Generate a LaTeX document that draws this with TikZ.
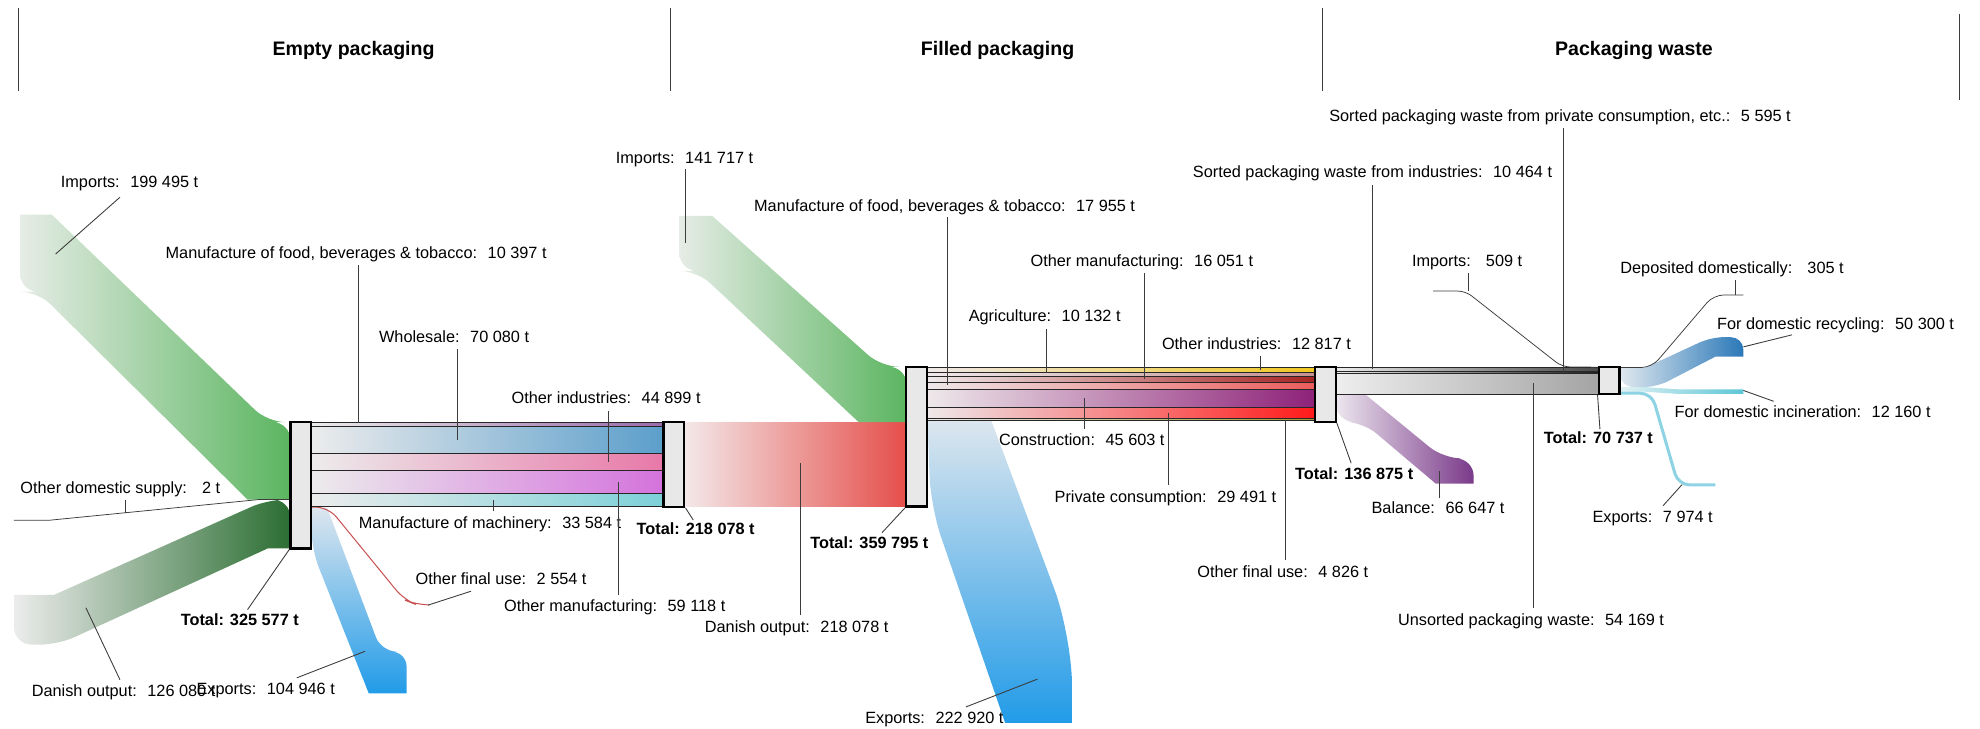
\documentclass[tikz,border=0pt]{standalone}
\usepackage{fontspec}
\setmainfont{Liberation Sans}
\usepackage{xcolor}
\usepackage{tikz}
\usetikzlibrary{positioning}

\definecolor{barfill}{HTML}{E8E8E8}
\definecolor{leadgray}{HTML}{3C3C3C}
\definecolor{paleL}{HTML}{ECECEC}
\definecolor{impPale}{HTML}{E6ECE6}
\definecolor{impGreen}{HTML}{5BB560}
\definecolor{danGreen}{HTML}{2B6E32}
\definecolor{expPale}{HTML}{DCE6EE}
\definecolor{expBlue}{HTML}{229BE8}
\definecolor{foodPurple}{HTML}{9A6AAA}
\definecolor{wsBlue}{HTML}{5B9ECB}
\definecolor{oiPink}{HTML}{E878A8}
\definecolor{omOrchid}{HTML}{D472DC}
\definecolor{mmCyan}{HTML}{7CD0D8}
\definecolor{redPale}{HTML}{F3E8E8}
\definecolor{danRed}{HTML}{E54E4A}
\definecolor{fillPale}{HTML}{EEE8EA}
\definecolor{oiYellow}{HTML}{F0C820}
\definecolor{agrRose}{HTML}{C49090}
\definecolor{omDark}{HTML}{A82424}
\definecolor{fbSalmon}{HTML}{EC5C5C}
\definecolor{conPurple}{HTML}{8E2279}
\definecolor{pcRed}{HTML}{FF1A1A}
\definecolor{ofuOlive}{HTML}{A49A34}
\definecolor{ofuRed}{HTML}{C85050}
\definecolor{balPale}{HTML}{ECE6EE}
\definecolor{balPurple}{HTML}{7A3A8A}
\definecolor{wastePale}{HTML}{EEEEEE}
\definecolor{unsGray}{HTML}{A4A4A4}
\definecolor{sinGray}{HTML}{4A4A4A}
\definecolor{sprGray}{HTML}{1E1E1E}
\definecolor{recPale}{HTML}{E0E8EF}
\definecolor{recBlue}{HTML}{2A78B8}
\definecolor{incPale}{HTML}{E2F1F3}
\definecolor{incCyan}{HTML}{5CC6D6}
\definecolor{expCyan}{HTML}{8ED3E3}

\begin{document}
\begin{tikzpicture}[x=1pt, y=-1pt,
    lbl/.style={font=\fontsize{12.9}{15}\selectfont, inner sep=0pt, anchor=west, text height=9.2pt, text depth=0pt},
    totlbl/.style={lbl, font=\fontsize{12.9}{15}\selectfont\bfseries},
    head/.style={font=\fontsize{15.5}{18}\selectfont\bfseries, inner sep=0pt},
    bar/.style={draw=black, line width=1.8pt, fill=barfill, minimum width=16.5pt, inner sep=0pt},
    lead/.style={draw=leadgray, line width=0.7pt},
    sep/.style={draw=black!85, line width=0.8pt}]
    \useasboundingbox (0,0) rectangle (1568,577);

    \draw[lead] (15,6) -- (15,72);
    \draw[lead] (531,6) -- (531,72);
    \draw[lead] (1047,6) -- (1047,72);
    \draw[lead] (1552,11) -- (1552,79);
    \node[head] (hEmpty) at (280,40) {Empty packaging};
    \node[head] (hFilled) at (790,40) {Filled packaging};
    \node[head] (hWaste) at (1294,40) {Packaging waste};

    \shade[left color=impPale, right color=impGreen] (16,170) -- (41,170) [rounded corners=14pt] -- (212,334.3) -- (230,334.3) [sharp corners] -- (230,395.6) -- (196,395.6) [rounded corners=14pt] -- (30,231) -- (16,231) [sharp corners] -- cycle;
    \shade[left color=paleL, right color=danGreen] (11,471) -- (43,471) [rounded corners=14pt] -- (212,395.6) -- (230,395.6) [sharp corners] -- (230,434.3) -- (212,434.3) [rounded corners=14pt] -- (46,510.5) -- (11,510.5) [sharp corners] -- cycle;
    \draw[lead, line width=0.6pt] (229,395.6) -- (205,395.6) -- (39,412) -- (11,412);
    \shade[top color=expPale, bottom color=expBlue] (246.5,402) -- (259,402) [rounded corners=12pt] -- (302,516) -- (322,516) [sharp corners] -- (322,549) -- (292,549) [rounded corners=16pt] -- (246.5,434.3) [sharp corners] -- cycle;
    \draw[draw=ofuRed, line width=0.8pt, rounded corners=10pt] (246.5,401.6) -- (260,401.6) -- (320,475) -- (330,479) -- (339,479);

    \shade[left color=paleL, right color=foodPurple] (246,334.3) rectangle (526,337.5);
    \shade[left color=paleL, right color=wsBlue] (246,337.5) rectangle (526,359.0);
    \shade[left color=paleL, right color=oiPink] (246,359.0) rectangle (526,372.8);
    \shade[left color=paleL, right color=omOrchid] (246,372.8) rectangle (526,391.0);
    \shade[left color=paleL, right color=mmCyan] (246,391.0) rectangle (526,401.3);
    \foreach \yy in {334.3,337.5,359.0,372.8,391.0,401.3}
        \draw[sep] (246,\yy) -- (526,\yy);

    \shade[left color=redPale, right color=danRed] (542,334.3) rectangle (718,401.3);
    \shade[left color=impPale, right color=impGreen] (538,171) -- (564,171) [rounded corners=14pt] -- (698,290.5) -- (718,290.5) [sharp corners] -- (718,334.3) -- (680,334.3) [rounded corners=14pt] -- (552,214.5) -- (538,214.5) [sharp corners] -- cycle;
    \shade[top color=expPale, bottom color=expBlue] (734.5,333) -- (785,333) [rounded corners=40pt] -- (849,504) [sharp corners] -- (849,572.5) -- (796,572.5) [rounded corners=25pt] -- (737,401.3) [sharp corners] -- cycle;

    \shade[left color=fillPale, right color=oiYellow] (734,291.0) rectangle (1041,294.9);
    \shade[left color=fillPale, right color=agrRose] (734,294.9) rectangle (1041,298.0);
    \shade[left color=fillPale, right color=omDark] (734,298.0) rectangle (1041,303.0);
    \shade[left color=fillPale, right color=fbSalmon] (734,303.0) rectangle (1041,308.5);
    \shade[left color=fillPale, right color=conPurple] (734,308.5) rectangle (1041,322.5);
    \shade[left color=fillPale, right color=pcRed] (734,322.5) rectangle (1041,331.5);
    \shade[left color=fillPale, right color=ofuOlive] (734,331.5) rectangle (1041,333.0);
    \foreach \yy in {291.0,294.9,298.0,303.0,308.5,322.5,331.5,333.0}
        \draw[sep, line width=0.6pt] (734,\yy) -- (1041,\yy);

    \shade[left color=balPale, right color=balPurple] (1058,313) -- (1082,313) [rounded corners=14pt] -- (1143,363) -- (1167,363) [sharp corners] -- (1167,383) -- (1137,383) [rounded corners=14pt] -- (1079,334) -- (1058,334) [sharp corners] -- cycle;

    \shade[left color=paleL, right color=sinGray] (1058,291.0) rectangle (1266,294.2);
    \shade[left color=paleL, right color=sprGray] (1058,294.2) rectangle (1266,295.9);
    \shade[left color=wastePale, right color=unsGray] (1058,295.9) rectangle (1266,312.5);
    \foreach \yy in {291.0,294.2,295.9,312.5}
        \draw[sep, line width=0.6pt] (1058,\yy) -- (1266,\yy);
    \draw[lead, line width=0.6pt, rounded corners=6pt] (1135,230.5) -- (1160.5,230.5) -- (1237,290.5) -- (1266,290.8);

    \shade[left color=recPale, right color=recBlue] (1283,291.1) -- (1303,291.1) [rounded corners=10pt] -- (1355,267) -- (1380.6,267) [sharp corners] -- (1380.6,282.4) -- (1358.5,282.4) [rounded corners=10pt] -- (1312,306.5) -- (1283,306.5) [sharp corners] -- cycle;
    \shade[left color=incPale, right color=incCyan] (1283,306.5) -- (1302,306.5) -- (1330,308.4) -- (1380.6,308.4) -- (1380.6,312) -- (1330,312) -- (1302,310.2) -- (1283,310.2) -- cycle;
    \draw[draw=expCyan, line width=2.4pt, rounded corners=9pt] (1283,311.4) -- (1308,311.4) -- (1329,384) -- (1358.5,384);
    \draw[lead, line width=0.6pt, rounded corners=8pt] (1283,291) -- (1308,291) -- (1357,233.6) -- (1380.6,233.6);

    \node[bar, minimum height=100pt] (b1) at (238.2,384.3) {};
    \node[bar, minimum height=67pt] (b2) at (533.7,367.8) {};
    \node[bar, minimum height=110.6pt] (b3) at (726,345.8) {};
    \node[bar, minimum height=43.5pt] (b4) at (1049.5,312.3) {};
    \node[bar, minimum height=21.2pt] (b5) at (1274.3,301.4) {};

    \node[lbl] (impE) at (48,144) {Imports:~ 199 495 t};
    \node[lbl] (foodE) at (131,200) {Manufacture of food, beverages \& tobacco:~ 10 397 t};
    \node[lbl] (whsE) at (300,267) {Wholesale:~ 70 080 t};
    \node[lbl] (othIndE) at (405,315) {Other industries:~ 44 899 t};
    \node[lbl] (machE) at (284,414) {Manufacture of machinery:~ 33 584 t};
    \node[lbl] (othManE) at (399,480) {Other manufacturing:~ 59 118 t};
    \node[lbl] (ofuE) at (329,458) {Other final use:~ 2 554 t};
    \node[totlbl] (totE1) at (143,491) {Total: 325 577 t};
    \node[lbl] (expE) at (155.5,545) {Exports:~ 104 946 t};
    \node[lbl] (danE) at (25,547) {Danish output:~ 126 080 t};
    \node[lbl] (odsE) at (16,386) {Other domestic supply:~~ 2 t};
    \node[totlbl] (totE2) at (504,419) {Total: 218 078 t};

    \node[lbl] (impF) at (487.5,124.5) {Imports:~ 141 717 t};
    \node[lbl] (foodF) at (597,162.5) {Manufacture of food, beverages \& tobacco:~ 17 955 t};
    \node[lbl] (othManF) at (816,206.5) {Other manufacturing:~ 16 051 t};
    \node[lbl] (agrF) at (767,250) {Agriculture:~ 10 132 t};
    \node[lbl] (othIndF) at (920,272) {Other industries:~ 12 817 t};
    \node[lbl] (conF) at (791,348.5) {Construction:~ 45 603 t};
    \node[lbl] (priF) at (835,393) {Private consumption:~ 29 491 t};
    \node[lbl] (ofuF) at (948,453) {Other final use:~ 4 826 t};
    \node[totlbl] (totF1) at (641.5,430) {Total: 359 795 t};
    \node[lbl] (danF) at (558,496.5) {Danish output:~ 218 078 t};
    \node[lbl] (expF) at (685,568.5) {Exports:~ 222 920 t};
    \node[totlbl] (totF2) at (1025.5,375) {Total: 136 875 t};

    \node[lbl] (sprW) at (1052.5,91.6) {Sorted packaging waste from private consumption, etc.:~ 5 595 t};
    \node[lbl] (sinW) at (944.5,136) {Sorted packaging waste from industries:~ 10 464 t};
    \node[lbl] (impW) at (1118,206.7) {Imports:~~ 509 t};
    \node[lbl] (depW) at (1283,212) {Deposited domestically:~~ 305 t};
    \node[lbl] (recW) at (1359.6,256) {For domestic recycling:~ 50 300 t};
    \node[lbl] (incW) at (1326,326) {For domestic incineration:~ 12 160 t};
    \node[lbl] (expW) at (1261,409) {Exports:~ 7 974 t};
    \node[lbl] (balW) at (1086,402) {Balance:~ 66 647 t};
    \node[lbl] (unsW) at (1107,491) {Unsorted packaging waste:~ 54 169 t};
    \node[totlbl] (totW) at (1222.5,347) {Total: 70 737 t};

    \draw[lead] (impE.south west) ++(47,7.4) -- ++(-51,45);
    \draw[lead] (foodE.south west) ++(153,5.4) -- ++(0,125);
    \draw[lead] (whsE.south west) ++(62.5,4.4) -- ++(0,72);
    \draw[lead] (othIndE.south west) ++(77,5.4) -- ++(0,41);
    \draw[lead] (machE.north west) ++(106.6,-4.4) -- ++(0,-9);
    \draw[lead] (othManE.north west) ++(90.7,-4.4) -- ++(0,-89.4);
    \draw[lead] (ofuE.south west) ++(44,5.4) -- ++(-34,11);
    \draw[lead] (totE1.north west) ++(53,-3.4) -- (b1.south west);
    \draw[lead] (expE.north west) ++(79.5,-3.4) -- ++(54,-21);
    \draw[lead] (danE.north west) ++(70,-3.9) -- ++(-27,-57);
    \draw[lead] (odsE.south west) ++(83,5.4) -- ++(0,10);
    \draw[lead] (totE2.north west) ++(45,-2.4) -- (b2.south east);

    \draw[lead] (impF.south west) ++(55.5,4.9) -- ++(0,58.5);
    \draw[lead] (foodF.south west) ++(153,4.4) -- ++(0,133.5);
    \draw[lead] (othManF.south west) ++(90.5,4.9) -- ++(0,84);
    \draw[lead] (agrF.south west) ++(61.5,5.4) -- ++(0,35.5);
    \draw[lead] (othIndF.south west) ++(78,5.4) -- ++(0,11);
    \draw[lead] (conF.north west) ++(67.6,-3.9) -- ++(0,-24.5);
    \draw[lead] (priF.north west) ++(90,-4.4) -- ++(0,-57);
    \draw[lead] (ofuF.north west) ++(69.6,-4.9) -- ++(0,-110.9);
    \draw[lead] (totF1.north west) ++(57,-3.4) -- (b3.south west);
    \draw[lead] (danF.north west) ++(75.5,-4.9) -- ++(0,-120);
    \draw[lead] (expF.north west) ++(80,-3.9) -- ++(56.6,-22);
    \draw[lead] (totF2.north west) ++(44.5,-3.4) -- (b4.south east);

    \draw[lead] (sprW.south west) ++(185.5,5.3) -- ++(0,193.5);
    \draw[lead] (sinW.south west) ++(142.3,5.9) -- ++(0,145.5);
    \draw[lead] (impW.south west) ++(45,4.7) -- ++(0,14.5);
    \draw[lead] (depW.south west) ++(91,5.1) -- ++(0,11.9);
    \draw[lead] (recW.south west) ++(59.4,4.4) -- ++(-38.4,9.5);
    \draw[lead] (incW.north west) ++(78.6,-3.4) -- ++(-24,-8.6);
    \draw[lead] (expW.north west) ++(56,-3.7) -- ++(15,-16.7);
    \draw[lead] (balW.north west) ++(54,-2.9) -- ++(0,-21);
    \draw[lead] (unsW.north west) ++(107,-4.4) -- ++(0,-178.5);
    \draw[lead] (totW.north west) ++(44.5,-2.4) -- (b5.south west);
\end{tikzpicture}
\end{document}
